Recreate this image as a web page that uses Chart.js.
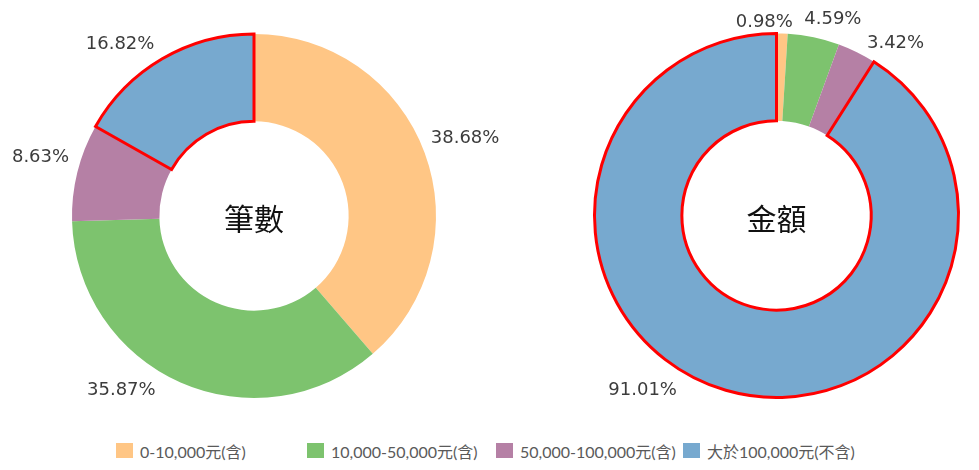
<!DOCTYPE html>
<html><head><meta charset="utf-8">
<script src="https://cdn.jsdelivr.net/npm/chart.js@4"></script>
<style>
html,body{margin:0;padding:0;background:#fff;width:979px;height:470px;overflow:hidden;position:relative}
canvas{position:absolute;top:0;left:0}
.leg{position:absolute;top:443px;height:15px;display:flex;align-items:center;font:16px Lato, "Noto Sans CJK TC", sans-serif;color:#5a5a5a;white-space:nowrap}
.leg i{display:inline-block;width:17px;height:15px;margin-right:7px;flex:none}
</style></head><body>
<canvas id="c1" width="979" height="430"></canvas>
<canvas id="c2" width="979" height="430"></canvas>
<div id="legend"></div>
<script>
const categories = ['0-10,000元(含)', '10,000-50,000元(含)', '50,000-100,000元(含)', '大於100,000元(不含)'];
const countShare = [38.68, 35.87, 8.63, 16.82];
const amountShare = [0.98, 4.59, 3.42, 91.01];
const chartTitles = ['筆數', '金額'];
const sliceColors = ['#FFC685', '#7DC36E', '#B580A5', '#77A9CF'];

const labelPlugin = {
  id: 'outerLabels',
  afterDatasetsDraw(chart, args, opts) {
    const ctx = chart.ctx;
    const meta = chart.getDatasetMeta(0);
    const data = chart.data.datasets[0].data;
    ctx.save();
    ctx.font = '18px "DejaVu Sans", Verdana, sans-serif';
    ctx.fillStyle = '#3c3c3c';
    ctx.textAlign = 'center';
    ctx.textBaseline = 'middle';
    meta.data.forEach((arc, i) => {
      const p = arc.getProps(['x','y','startAngle','endAngle','outerRadius'], true);
      const mid = (p.startAngle + p.endAngle) / 2;
      const r = p.outerRadius + 40;
      const n = (opts.nudge && opts.nudge[i]) || [0,0];
      const x = p.x + Math.cos(mid) * r + n[0];
      const y = p.y + Math.sin(mid) * r + n[1];
      ctx.fillText(data[i].toFixed(2) + '%', x, y);
    });
    const a0 = meta.data[0].getProps(['x','y'], true);
    ctx.font = '30px "Noto Sans CJK TC", sans-serif';
    ctx.fillStyle = '#111';
    ctx.fillText(opts.title, a0.x, a0.y + 3);
    ctx.restore();
  }
};

function makeChart(id, values, title, padding, nudge) {
  return new Chart(document.getElementById(id), {
    type: 'doughnut',
    data: {
      labels: categories,
      datasets: [{
        data: values,
        backgroundColor: sliceColors,
        borderColor: ['rgba(0,0,0,0)', 'rgba(0,0,0,0)', 'rgba(0,0,0,0)', '#FF0000'],
        borderWidth: [0, 0, 0, 3],
        borderJoinStyle: 'miter',
        borderAlign: 'center'
      }]
    },
    options: {
      responsive: false,
      animation: false,
      cutout: '52%',
      layout: { padding: padding },
      plugins: {
        legend: { display: false },
        tooltip: { enabled: false },
        outerLabels: { title: title, nudge: nudge }
      }
    },
    plugins: [labelPlugin]
  });
}

makeChart('c1', countShare, chartTitles[0],
  { left: 70.5, right: 541.5, top: 32.5, bottom: 30.5 },
  [[3,0],[-43,-29],[2,-5],[-22,20]]);
makeChart('c2', amountShare, chartTitles[1],
  { left: 593, right: 19, top: 32, bottom: 31 },
  [[-19,29],[11,21],[21,27],[-72,-38]]);

const legendLefts = [116, 307, 496, 683];
const legend = document.getElementById('legend');
categories.forEach((c, i) => {
  const d = document.createElement('div');
  d.className = 'leg';
  d.style.left = legendLefts[i] + 'px';
  const box = document.createElement('i');
  box.style.background = sliceColors[i];
  d.appendChild(box);
  d.appendChild(document.createTextNode(c));
  legend.appendChild(d);
});
</script>
</body></html>
